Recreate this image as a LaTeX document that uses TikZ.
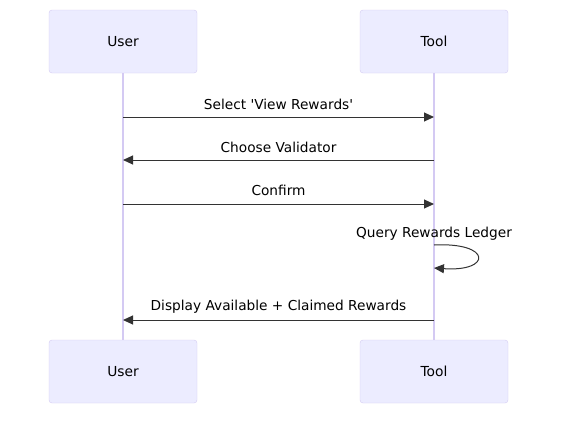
\documentclass[tikz,border=0pt]{standalone}
\usepackage{fontspec}
\setmainfont{DejaVu Sans}
\usetikzlibrary{arrows.meta,calc}
\definecolor{actorfill}{HTML}{ECECFF}
\definecolor{actorline}{HTML}{D4CAF3}
\definecolor{msgline}{HTML}{333333}

\begin{document}
\begin{tikzpicture}[x=1pt,y=-1pt,
  actor/.style={draw=actorline,fill=actorfill,rounded corners=3pt,minimum width=148pt,minimum height=63pt,font=\fontsize{13.8}{16}\selectfont},
  life/.style={draw=actorline,line width=1.2pt},
  msg/.style={draw=msgline,line width=1pt,-{Triangle[length=10pt,width=9pt]}},
  lbl/.style={font=\fontsize{13.7}{16}\selectfont,text=black}]
\useasboundingbox (0,0) rectangle (566,421);
% participants
\node[actor] (userTop) at (123,41.5) {User};
\node[actor] (toolTop) at (434,41.5) {Tool};
\node[actor] (userBot) at (123,371.5) {User};
\node[actor] (toolBot) at (434,371.5) {Tool};
% lifelines
\draw[life](userTop.south)--(userBot.north);
\draw[life](toolTop.south)--(toolBot.north);
% message anchors
\coordinate (u1) at (123,117); \coordinate (t1) at (434,117);
\coordinate (u2) at (123,160); \coordinate (t2) at (434,160);
\coordinate (u3) at (123,204); \coordinate (t3) at (434,204);
\coordinate (t4) at (434,245); \coordinate (t4b) at (434,268);
\coordinate (u5) at (123,320); \coordinate (t5) at (434,320);
% messages
\draw[msg](u1)--(t1);
\node[lbl] (m1) at (278.5,104) {Select \textquotesingle View Rewards\textquotesingle};
\draw[msg](t2)--(u2);
\node[lbl] (m2) at (278.5,147) {Choose Validator};
\draw[msg](u3)--(t3);
\node[lbl] (m3) at (278.5,190) {Confirm};
\draw[msg](t4) .. controls (492,242) and (492,272) .. (t4b);
\node[lbl] (m4) at (434,234) {Query Rewards Ledger};
\draw[msg](t5)--(u5);
\node[lbl] (m5) at (278.5,307) {Display Available + Claimed Rewards};
\end{tikzpicture}
\end{document}
